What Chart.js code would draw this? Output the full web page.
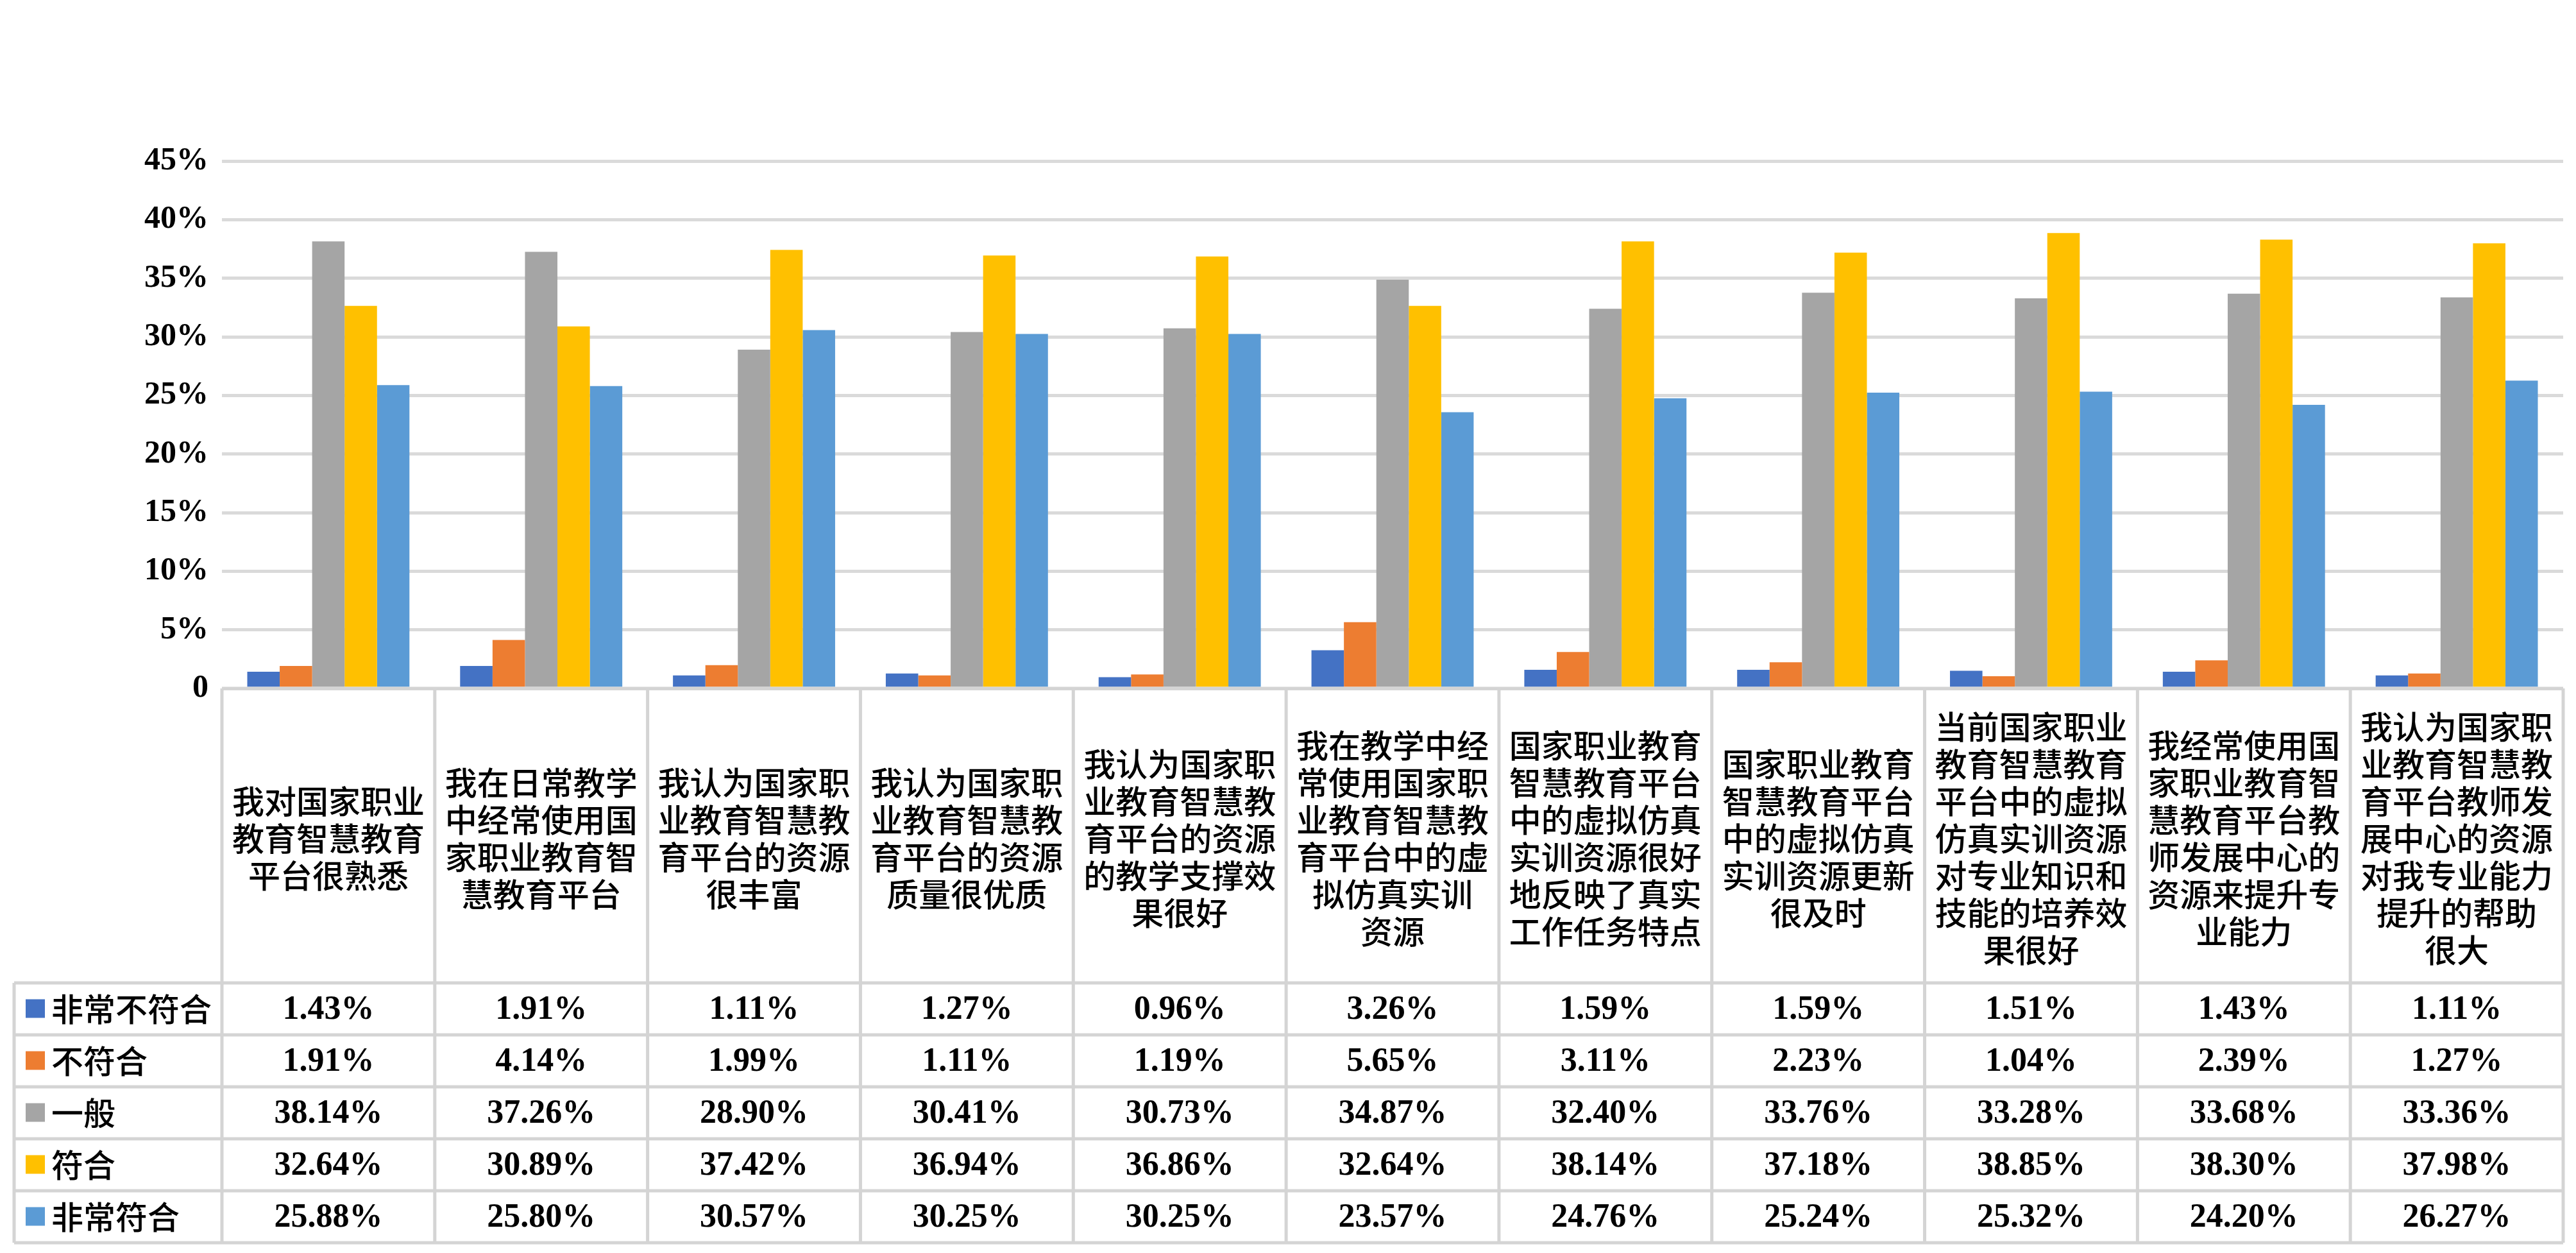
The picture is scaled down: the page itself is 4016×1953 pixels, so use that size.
<!DOCTYPE html>
<html lang="zh">
<head>
    <meta charset="UTF-8">
    <title>国家职业教育智慧教育平台使用情况</title>
    <script src="https://cdn.jsdelivr.net/npm/chart.js"></script>
    <style>
        body { margin: 0; background: #ffffff; }
        #wrap { width: 4016px; height: 1953px; position: relative; }
    </style>
</head>
<body>
<div id="wrap"><canvas id="surveyChart"></canvas></div>
<script>
    // 题目（每个元素是一行）
    const categories = [
        ['我对国家职业', '教育智慧教育', '平台很熟悉'],
        ['我在日常教学', '中经常使用国', '家职业教育智', '慧教育平台'],
        ['我认为国家职', '业教育智慧教', '育平台的资源', '很丰富'],
        ['我认为国家职', '业教育智慧教', '育平台的资源', '质量很优质'],
        ['我认为国家职', '业教育智慧教', '育平台的资源', '的教学支撑效', '果很好'],
        ['我在教学中经', '常使用国家职', '业教育智慧教', '育平台中的虚', '拟仿真实训', '资源'],
        ['国家职业教育', '智慧教育平台', '中的虚拟仿真', '实训资源很好', '地反映了真实', '工作任务特点'],
        ['国家职业教育', '智慧教育平台', '中的虚拟仿真', '实训资源更新', '很及时'],
        ['当前国家职业', '教育智慧教育', '平台中的虚拟', '仿真实训资源', '对专业知识和', '技能的培养效', '果很好'],
        ['我经常使用国', '家职业教育智', '慧教育平台教', '师发展中心的', '资源来提升专', '业能力'],
        ['我认为国家职', '业教育智慧教', '育平台教师发', '展中心的资源', '对我专业能力', '提升的帮助', '很大']
    ];

    const seriesNames = ['非常不符合', '不符合', '一般', '符合', '非常符合'];
    const seriesColors = ['#4472C4', '#ED7D31', '#A5A5A5', '#FFC000', '#5B9BD5'];

    const veryDisagree = [1.43, 1.91, 1.11, 1.27, 0.96, 3.26, 1.59, 1.59, 1.51, 1.43, 1.11];
    const disagree     = [1.91, 4.14, 1.99, 1.11, 1.19, 5.65, 3.11, 2.23, 1.04, 2.39, 1.27];
    const neutral      = [38.14, 37.26, 28.90, 30.41, 30.73, 34.87, 32.40, 33.76, 33.28, 33.68, 33.36];
    const agree        = [32.64, 30.89, 37.42, 36.94, 36.86, 32.64, 38.14, 37.18, 38.85, 38.30, 37.98];
    const veryAgree    = [25.88, 25.80, 30.57, 30.25, 30.25, 23.57, 24.76, 25.24, 25.32, 24.20, 26.27];
    const seriesValues = [veryDisagree, disagree, neutral, agree, veryAgree];

    const yTicks = [0, 5, 10, 15, 20, 25, 30, 35, 40, 45];

    const HEADER_H = 459;   // 题目那一行的高度
    const ROW_H = 81;       // 数据行高度
    const TABLE_LEFT = 22;
    const LINE_COLOR = '#D4D4D4';
    const CJK_FONT = '500 50px "Noto Sans CJK SC", sans-serif';
    const NUM_FONT = 'bold 52px "Liberation Serif", "Times New Roman", serif';

    // 图下方的数据表
    const dataTable = {
        id: 'dataTable',
        afterDraw(chart) {
            const ctx = chart.ctx;
            const area = chart.chartArea;
            const x = chart.scales.x;
            const n = categories.length;
            const catW = (area.right - area.left) / n;
            const top = area.bottom;
            const headBottom = top + HEADER_H;
            const tableBottom = headBottom + ROW_H * seriesNames.length;

            ctx.save();
            ctx.strokeStyle = LINE_COLOR;
            ctx.lineWidth = 5;
            ctx.beginPath();
            // 表头上边线
            ctx.moveTo(area.left, top);
            ctx.lineTo(area.right, top);
            // 各数据行横线
            for (let r = 0; r <= seriesNames.length; r++) {
                const y = headBottom + r * ROW_H;
                ctx.moveTo(TABLE_LEFT, y);
                ctx.lineTo(area.right, y);
            }
            // 竖线
            for (let i = 0; i <= n; i++) {
                const xx = area.left + i * catW;
                ctx.moveTo(xx, top);
                ctx.lineTo(xx, tableBottom);
            }
            ctx.moveTo(TABLE_LEFT, headBottom);
            ctx.lineTo(TABLE_LEFT, tableBottom);
            ctx.stroke();

            ctx.fillStyle = '#000000';
            ctx.textBaseline = 'middle';

            // 题目文字
            ctx.font = CJK_FONT;
            ctx.textAlign = 'center';
            const lineH = 58;
            categories.forEach((lines, i) => {
                const cx = x.getPixelForValue(i);
                const cy = top + HEADER_H / 2 + 4;
                const y0 = cy - (lines.length - 1) * lineH / 2;
                lines.forEach((t, k) => ctx.fillText(t, cx, y0 + k * lineH));
            });

            // 图例 + 数值
            seriesNames.forEach((name, r) => {
                const cy = headBottom + r * ROW_H + ROW_H / 2;
                ctx.fillStyle = seriesColors[r];
                ctx.fillRect(40, cy - 15, 30, 29);
                ctx.fillStyle = '#000000';
                ctx.font = CJK_FONT;
                ctx.textAlign = 'left';
                ctx.fillText(name, 80, cy);
                ctx.font = NUM_FONT;
                ctx.textAlign = 'center';
                seriesValues[r].forEach((v, i) => {
                    ctx.fillText(v.toFixed(2) + '%', x.getPixelForValue(i), cy + 2);
                });
            });
            ctx.restore();
        }
    };

    const ctx = document.getElementById('surveyChart').getContext('2d');
    new Chart(ctx, {
        type: 'bar',
        data: {
            labels: categories,
            datasets: seriesNames.map((name, i) => ({
                label: name,
                data: seriesValues[i],
                backgroundColor: seriesColors[i],
                borderWidth: 0,
                categoryPercentage: 0.762,
                barPercentage: 1.0
            }))
        },
        options: {
            responsive: true,
            maintainAspectRatio: false,
            devicePixelRatio: 1,
            animation: false,
            layout: { padding: { top: 251, right: 20, bottom: 880, left: 0 } },
            plugins: {
                legend: { display: false },
                tooltip: { enabled: false }
            },
            scales: {
                x: { display: false },
                y: {
                    min: yTicks[0],
                    max: yTicks[yTicks.length - 1],
                    afterBuildTicks: (scale) => { scale.ticks = yTicks.map(v => ({ value: v })); },
                    afterFit: (scale) => { scale.width = 346; },
                    border: { display: false },
                    grid: { color: '#DADADA', lineWidth: 5, drawTicks: false },
                    ticks: {
                        padding: 21,
                        color: '#000000',
                        font: { family: '"Liberation Serif", "Times New Roman", serif', size: 50, weight: 'bold' },
                        callback: (v) => v === 0 ? '0' : v + '%'
                    }
                }
            }
        },
        plugins: [dataTable]
    });
</script>
</body>
</html>
